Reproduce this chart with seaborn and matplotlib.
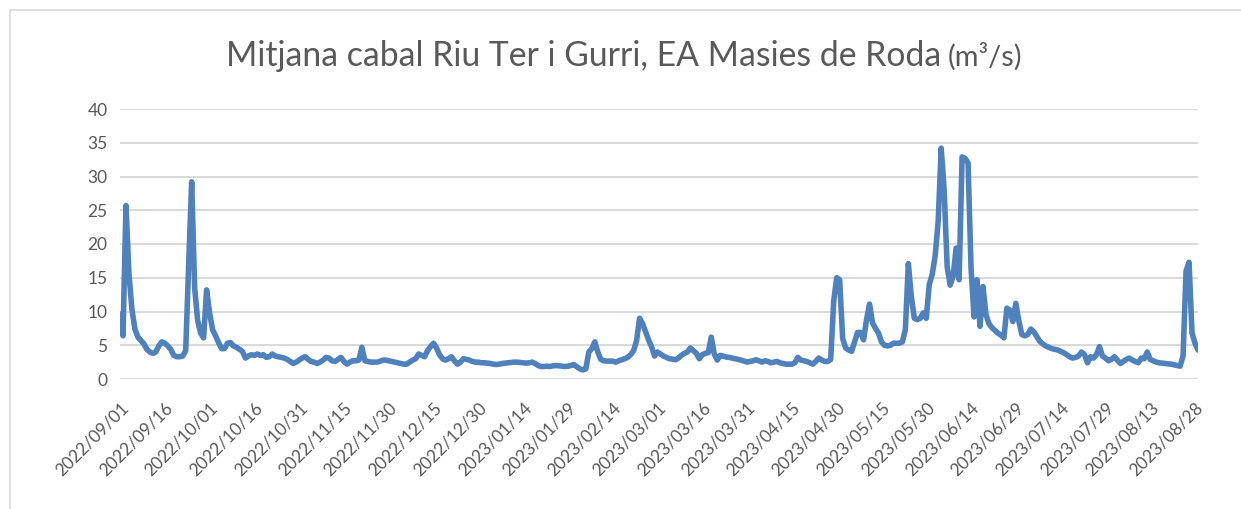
import matplotlib
matplotlib.use("Agg")
import matplotlib.pyplot as plt
from matplotlib.lines import Line2D
import pandas as pd
import seaborn as sns


TITLE = "Mitjana cabal Riu Ter i Gurri, EA Masies de Roda "
TITLE_UNIT = "(m³/s)"

TICK_LABELS = [
    "2022/09/01", "2022/09/16", "2022/10/01", "2022/10/16", "2022/10/31",
    "2022/11/15", "2022/11/30", "2022/12/15", "2022/12/30", "2023/01/14",
    "2023/01/29", "2023/02/14", "2023/03/01", "2023/03/16", "2023/03/31",
    "2023/04/15", "2023/04/30", "2023/05/15", "2023/05/30", "2023/06/14",
    "2023/06/29", "2023/07/14", "2023/07/29", "2023/08/13", "2023/08/28",
]

# daily mean flow (m3/s), one value per day
FLOW = [
    9.6, 6.4, 25.7, 15.6, 10.3, 7.4, 6.2, 5.7, 5.2, 4.4,
    4.0, 3.8, 4.0, 4.9, 5.5, 5.3, 4.9, 4.4, 3.5, 3.3,
    3.3, 3.4, 4.2, 17.0, 29.2, 13.5, 8.7, 6.8, 6.1, 13.2,
    9.8, 7.3, 6.4, 5.4, 4.5, 4.5, 5.3, 5.4, 4.9, 4.7,
    4.4, 4.1, 3.1, 3.4, 3.6, 3.5, 3.7, 3.5, 3.6, 3.2,
    3.3, 3.7, 3.4, 3.3, 3.2, 3.1, 2.9, 2.6, 2.3, 2.5,
    2.8, 3.1, 3.3, 2.9, 2.6, 2.5, 2.3, 2.5, 2.8, 3.2,
    3.1, 2.7, 2.6, 2.9, 3.2, 2.6, 2.2, 2.5, 2.7, 2.7,
    2.8, 4.7, 2.7, 2.6, 2.5, 2.5, 2.5, 2.6, 2.8, 2.8,
    2.7, 2.6, 2.5, 2.4, 2.3, 2.2, 2.2, 2.5, 2.8, 3.0,
    3.7, 3.5, 3.3, 4.2, 4.8, 5.3, 4.6, 3.6, 3.0, 2.8,
    3.0, 3.3, 2.7, 2.2, 2.5, 3.0, 2.9, 2.8, 2.6, 2.5,
    2.5, 2.4, 2.4, 2.35, 2.3, 2.2, 2.15, 2.2, 2.3, 2.35,
    2.4, 2.45, 2.5, 2.5, 2.45, 2.4, 2.35, 2.4, 2.5, 2.3,
    2.0, 1.85, 1.85, 1.9, 1.85, 1.95, 2.0, 1.95, 1.9, 1.85,
    1.9, 2.0, 2.15, 1.8, 1.5, 1.35, 1.5, 4.0, 4.5, 5.5,
    4.0, 2.9, 2.7, 2.65, 2.65, 2.65, 2.5, 2.7, 2.85, 3.0,
    3.2, 3.6, 4.2, 5.7, 9.0, 8.2, 7.0, 5.8, 4.8, 3.4,
    4.0, 3.7, 3.4, 3.2, 3.0, 2.95, 2.85, 3.1, 3.5, 3.8,
    4.0, 4.6, 4.2, 3.8, 3.0, 3.6, 3.8, 3.9, 6.2, 3.7,
    2.8, 3.5, 3.4, 3.25, 3.2, 3.1, 3.0, 2.9, 2.8, 2.65,
    2.5, 2.6, 2.7, 2.85, 2.7, 2.5, 2.7, 2.6, 2.4, 2.5,
    2.6, 2.4, 2.3, 2.2, 2.2, 2.2, 2.4, 3.2, 2.8, 2.7,
    2.6, 2.4, 2.2, 2.6, 3.1, 2.8, 2.6, 2.6, 2.9, 11.5,
    15.0, 14.7, 6.0, 4.6, 4.3, 4.1, 5.5, 6.9, 6.9, 5.8,
    8.8, 11.1, 8.3, 7.5, 6.8, 5.5, 5.0, 4.9, 5.0, 5.3,
    5.3, 5.3, 5.5, 7.3, 17.1, 12.2, 9.0, 8.8, 9.0, 9.8,
    9.0, 14.0, 15.5, 18.3, 23.4, 34.2, 28.0, 16.6, 13.9, 15.2,
    19.4, 14.7, 32.9, 32.7, 32.0, 16.4, 9.2, 14.7, 7.8, 13.7,
    9.5, 8.2, 7.6, 7.2, 6.8, 6.5, 6.1, 10.5, 10.2, 8.5,
    11.2, 8.6, 6.6, 6.4, 6.6, 7.4, 7.0, 6.3, 5.6, 5.2,
    4.9, 4.7, 4.5, 4.4, 4.3, 4.1, 3.9, 3.6, 3.3, 3.1,
    3.2, 3.4, 4.0, 3.6, 2.4, 3.3, 3.1, 3.6, 4.8, 3.4,
    3.1, 2.7, 2.9, 3.3, 2.8, 2.3, 2.6, 2.9, 3.1, 2.8,
    2.6, 2.4, 3.1, 3.0, 4.0, 2.9, 2.7, 2.5, 2.4, 2.35,
    2.3, 2.25, 2.2, 2.1, 2.0, 1.9, 3.4, 16.0, 17.3, 6.8,
    5.3, 4.3,
]

W, H = 1241, 509
LINE_COLOR = "#4f81bd"
TEXT_COLOR = "#595959"
GRID_COLOR = "#d9d9d9"
FONT = ["Lato", "DejaVu Sans"]


def main():
    sns.set_theme(style="white")
    plt.rcParams["font.family"] = FONT

    df = pd.DataFrame({"day": range(len(FLOW)), "flow": FLOW})

    fig = plt.figure(figsize=(W / 100, H / 100), dpi=100, facecolor="white")
    ax = fig.add_axes([120 / W, 1 - 379 / H, 1078 / W, 270 / H])

    sns.lineplot(data=df, x="day", y="flow", color=LINE_COLOR, linewidth=4.0, ax=ax)
    for line in ax.get_lines():
        line.set_solid_joinstyle("round")
        line.set_solid_capstyle("round")

    ax.set_xlim(0, len(FLOW) - 1)
    ax.set_ylim(0, 40)
    ax.set_yticks(range(0, 41, 5))
    ax.set_xticks(range(0, 15 * len(TICK_LABELS), 15))
    ax.set_xticklabels(TICK_LABELS, rotation=45, ha="right", rotation_mode="anchor")
    ax.set_xlabel("")
    ax.set_ylabel("")
    ax.grid(axis="y", color=GRID_COLOR, linewidth=1.4)
    ax.set_axisbelow(True)
    for spine in ax.spines.values():
        spine.set_visible(False)
    ax.tick_params(axis="both", length=0, colors=TEXT_COLOR, labelsize=12.5)
    ax.tick_params(axis="y", pad=9)
    ax.tick_params(axis="x", pad=15)

    # chart area border (top and left edges visible)
    fig.add_artist(Line2D([10 / W, 1], [1 - 10 / H] * 2, color=GRID_COLOR, lw=1.2))
    fig.add_artist(Line2D([10 / W] * 2, [0, 1 - 10 / H], color=GRID_COLOR, lw=1.2))

    # title: main part fitted to the reference width, unit part smaller
    renderer = fig.canvas.get_renderer()
    title = fig.text(226 / W, 1 - 66 / H, TITLE.rstrip(), fontsize=24,
                     color=TEXT_COLOR, ha="left", va="baseline")
    width = title.get_window_extent(renderer).width
    size = 24 * 714 / width
    title.set_fontsize(size)
    right = title.get_window_extent(renderer).x1
    fig.text((right + 7) / W, 1 - 66 / H, TITLE_UNIT, fontsize=size * 0.86,
             color=TEXT_COLOR, ha="left", va="baseline")

    fig.savefig("out.png", dpi=100, facecolor="white")
    plt.close(fig)


if __name__ == "__main__":
    main()
